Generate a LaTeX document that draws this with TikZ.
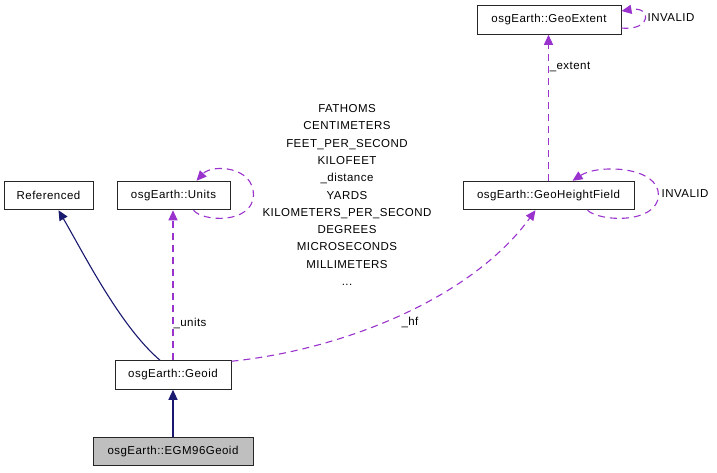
\documentclass[tikz,border=0pt]{standalone}
\usepackage{fontspec}
\setmainfont{Liberation Sans}[LetterSpace=4]
\usetikzlibrary{arrows.meta,calc}
\definecolor{edgenavy}{HTML}{191970}
\definecolor{edgepurple}{HTML}{9A32CD}
\definecolor{boxgray}{HTML}{BFBFBF}
\begin{document}
\begin{tikzpicture}[x=1pt,y=-1pt,
 cls/.style={draw=black!85, line width=1pt, fill=white, inner sep=0pt, minimum height=28.5pt, font=\fontsize{11.5}{13}\selectfont},
 inh/.style={draw=edgenavy, line width=1.1pt, -{Triangle[length=10pt,width=9pt]}, color=edgenavy},
 use/.style={draw=edgepurple, line width=1.1pt, dash pattern=on 7pt off 5pt, -{Triangle[length=10pt,width=9pt]}, color=edgepurple},
 lbl/.style={font=\fontsize{11.5}{17.3}\selectfont, inner sep=0pt, align=center}]
\useasboundingbox (0,0) rectangle (717,472);
\node[cls, minimum width=113pt] (units) at (173.5,195.5) {osgEarth::Units};
\node[cls, minimum width=171pt] (ghf) at (548.5,195.5) {osgEarth::GeoHeightField};
\node[cls, minimum width=144pt] (extent) at (549,20) {osgEarth::GeoExtent};
\node[cls, minimum width=89pt] (referenced) at (48.5,195.5) {Referenced};
\node[cls, minimum width=116pt] (geoid) at (173,375) {osgEarth::Geoid};
\node[cls, minimum width=160pt, fill=boxgray] (egm) at (173,451.5) {osgEarth::EGM96Geoid};

\draw[inh] (egm) -- (geoid);
\draw[inh] ($(geoid.north)+(-13,0)$) .. controls (120,326) and (84,254) .. ($(referenced.south)+(10,0)$);
\draw[use] (geoid.north) -- (geoid.north |- units.south);
\draw[use] ($(geoid.north east)+(0,1)$) .. controls (340,350) and (470,300) .. ($(ghf.south)+(-13,0)$);
\draw[use] (ghf.north) -- (ghf.north |- extent.south);

\draw[use] ($(units.south)+(20,0)$) .. controls (203,222) and (252,224) .. ($(units.east)+(23,0)$)
  .. controls (254,166) and (212,164) .. ($(units.north)+(23,0)$);
\draw[use] ($(ghf.south)+(39,0)$) .. controls (600,222) and (657,224) .. ($(ghf.east)+(24,0)$)
  .. controls (659,166) and (598,164) .. ($(ghf.north)+(24,0)$);
\draw[use] ($(extent.east)+(0,8)$) .. controls (652,31) and (652,6) .. ($(extent.east)+(0,-9)$);

\node[lbl] (lunits) at (190,323) {\_units};
\node[lbl] (lhf) at (410,322) {\_hf};
\node[lbl] (lextent) at (570,67) {\_extent};
\node[lbl] (linv1) at (671,18) {INVALID};
\node[lbl] (linv2) at (685,194) {INVALID};
\node[lbl] (lunitsloop) at (347,195) {FATHOMS\\CENTIMETERS\\FEET\_PER\_SECOND\\KILOFEET\\\_distance\\YARDS\\KILOMETERS\_PER\_SECOND\\DEGREES\\MICROSECONDS\\MILLIMETERS\\...};
\end{tikzpicture}
\end{document}
